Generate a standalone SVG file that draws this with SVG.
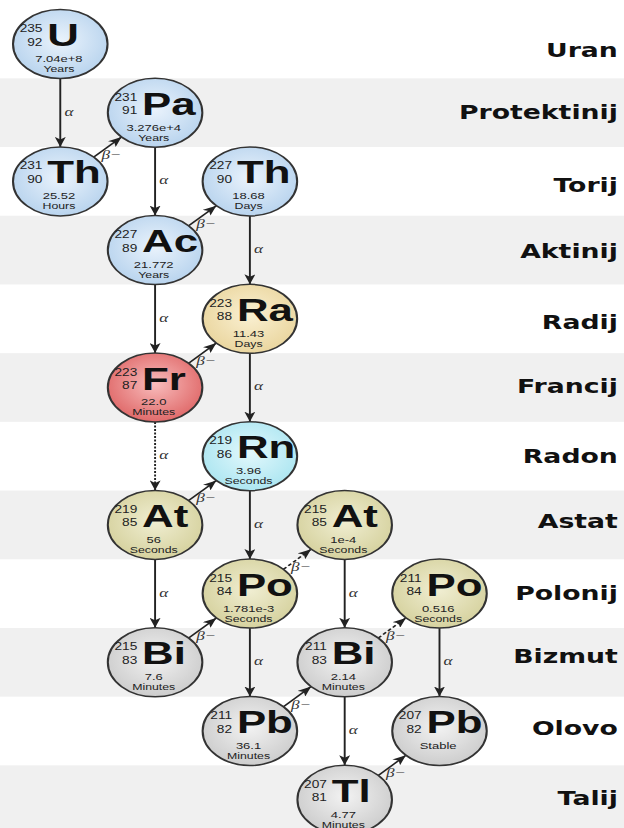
<svg xmlns="http://www.w3.org/2000/svg" width="624" height="828" viewBox="0 0 624 828">
<style>
.band{fill:#f0f0f0}
.lbl{font-family:"DejaVu Sans",Verdana,sans-serif;font-weight:bold;font-size:19.5px;fill:#111;text-anchor:end}
.node circle{stroke:#333333;stroke-width:1.5}
.mass{font-family:"Liberation Sans",Arial,sans-serif;font-size:10px;fill:#222;text-anchor:end}
.sym{font-family:"Liberation Sans",Arial,sans-serif;font-weight:bold;font-size:32px;fill:#111}
.hl{font-family:"Liberation Sans",Arial,sans-serif;font-size:9.5px;fill:#222;text-anchor:middle}
.unit{font-family:"Liberation Sans",Arial,sans-serif;font-size:9px;fill:#222;text-anchor:middle}
.edge{stroke:#222;stroke-width:1.4;fill:none;marker-end:url(#arr)}
.dot{stroke-dasharray:2 1.5}
.dash{stroke-dasharray:3 2}
.gl{font-family:"Liberation Serif","DejaVu Serif",serif;font-style:italic;font-size:12.5px;fill:#333}
</style>
<defs>
<radialGradient id="gBlue" cx="50%" cy="45%" r="55%"><stop offset="0" stop-color="#eaf3fc"/><stop offset="1" stop-color="#b9d4ee"/></radialGradient>
<radialGradient id="gTan" cx="50%" cy="45%" r="55%"><stop offset="0" stop-color="#faf0d2"/><stop offset="1" stop-color="#ead69f"/></radialGradient>
<radialGradient id="gRed" cx="50%" cy="45%" r="55%"><stop offset="0" stop-color="#f8bcbc"/><stop offset="1" stop-color="#e06a6a"/></radialGradient>
<radialGradient id="gCyan" cx="50%" cy="45%" r="55%"><stop offset="0" stop-color="#e2f8fc"/><stop offset="1" stop-color="#ade6f1"/></radialGradient>
<radialGradient id="gKhaki" cx="50%" cy="45%" r="55%"><stop offset="0" stop-color="#f0eed2"/><stop offset="1" stop-color="#d6d29f"/></radialGradient>
<radialGradient id="gGray" cx="50%" cy="45%" r="55%"><stop offset="0" stop-color="#f2f2f2"/><stop offset="1" stop-color="#cdcdcd"/></radialGradient>
<marker id="arr" markerUnits="userSpaceOnUse" markerWidth="10" markerHeight="8" refX="10" refY="4" orient="auto" viewBox="0 0 10 8"><path d="M0,0 L10,4 L0,8 L2.5,4 Z" fill="#222"/></marker>
</defs>
<rect x="0" y="0" width="624" height="828" fill="#ffffff"/>
<g transform="scale(1.37,1)">
<g id="bands">
<rect class="band" x="0" y="78.35" width="456" height="68.7"/>
<rect class="band" x="0" y="215.75" width="456" height="68.7"/>
<rect class="band" x="0" y="353.15" width="456" height="68.7"/>
<rect class="band" x="0" y="490.55" width="456" height="68.7"/>
<rect class="band" x="0" y="627.95" width="456" height="68.7"/>
<rect class="band" x="0" y="765.35" width="456" height="68.7"/>
</g>
<g id="labels">
<text class="lbl" x="451" y="57">Uran</text>
<text class="lbl" x="451" y="119">Protektinij</text>
<text class="lbl" x="451" y="192">Torij</text>
<text class="lbl" x="451" y="258">Aktinij</text>
<text class="lbl" x="451" y="329.5">Radij</text>
<text class="lbl" x="451" y="393">Francij</text>
<text class="lbl" x="451" y="463">Radon</text>
<text class="lbl" x="451" y="528">Astat</text>
<text class="lbl" x="451" y="600">Polonij</text>
<text class="lbl" x="451" y="663">Bizmut</text>
<text class="lbl" x="451" y="735">Olovo</text>
<text class="lbl" x="451" y="805">Talij</text>
</g>
<g id="connectors">
<line class="edge" x1="44" y1="78.5" x2="44" y2="146.9"/>
<text class="gl" x="47" y="115.7">α</text>
<line class="edge" x1="113.2" y1="147.2" x2="113.2" y2="215.6"/>
<text class="gl" x="116.2" y="184.4">α</text>
<line class="edge" x1="182.4" y1="215.9" x2="182.4" y2="284.3"/>
<text class="gl" x="185.4" y="253.1">α</text>
<line class="edge" x1="113.2" y1="284.6" x2="113.2" y2="353"/>
<text class="gl" x="116.2" y="321.8">α</text>
<line class="edge" x1="182.4" y1="353.3" x2="182.4" y2="421.7"/>
<text class="gl" x="185.4" y="390.5">α</text>
<line class="edge dot" x1="113.2" y1="422" x2="113.2" y2="490.4"/>
<text class="gl" x="116.2" y="459.2">α</text>
<line class="edge" x1="182.4" y1="490.7" x2="182.4" y2="559.1"/>
<text class="gl" x="185.4" y="527.9">α</text>
<line class="edge" x1="113.2" y1="559.4" x2="113.2" y2="627.8"/>
<text class="gl" x="116.2" y="596.6">α</text>
<line class="edge" x1="251.6" y1="559.4" x2="251.6" y2="627.8"/>
<text class="gl" x="254.6" y="596.6">α</text>
<line class="edge" x1="182.4" y1="628.1" x2="182.4" y2="696.5"/>
<text class="gl" x="185.4" y="665.3">α</text>
<line class="edge" x1="320.8" y1="628.1" x2="320.8" y2="696.5"/>
<text class="gl" x="323.8" y="665.3">α</text>
<line class="edge" x1="251.6" y1="696.8" x2="251.6" y2="765.2"/>
<text class="gl" x="254.6" y="734">α</text>
<line class="edge" x1="68.5" y1="157.1" x2="88.7" y2="137"/>
<text class="gl" x="74.1" y="159">β−</text>
<line class="edge" x1="137.7" y1="225.8" x2="157.9" y2="205.7"/>
<text class="gl" x="143.3" y="227.8">β−</text>
<line class="edge" x1="137.7" y1="363.2" x2="157.9" y2="343.1"/>
<text class="gl" x="143.3" y="365.2">β−</text>
<line class="edge" x1="137.7" y1="500.6" x2="157.9" y2="480.5"/>
<text class="gl" x="143.3" y="502.5">β−</text>
<line class="edge dash" x1="206.9" y1="569.3" x2="227.1" y2="549.2"/>
<text class="gl" x="212.5" y="571.3">β−</text>
<line class="edge" x1="137.7" y1="638" x2="157.9" y2="617.9"/>
<text class="gl" x="143.3" y="640">β−</text>
<line class="edge dash" x1="276.1" y1="638" x2="296.3" y2="617.9"/>
<text class="gl" x="281.7" y="640">β−</text>
<line class="edge" x1="206.9" y1="706.7" x2="227.1" y2="686.6"/>
<text class="gl" x="212.5" y="708.7">β−</text>
<line class="edge" x1="276.1" y1="775.4" x2="296.3" y2="755.3"/>
<text class="gl" x="281.7" y="777.4">β−</text>
</g>
<g id="n-U235" class="node" transform="translate(44,44)"><circle r="34.5" fill="url(#gBlue)"/><text class="mass" x="-13" y="-12">235</text><text class="mass" x="-13" y="1.5">92</text><text class="sym" x="-9.5" y="2">U</text><text class="hl" x="-1" y="18">7.04e+8</text><text class="unit" x="-1" y="28">Years</text></g>
<g id="n-Pa231" class="node" transform="translate(113.2,112.7)"><circle r="34.5" fill="url(#gBlue)"/><text class="mass" x="-13" y="-12">231</text><text class="mass" x="-13" y="1.5">91</text><text class="sym" x="-9.5" y="2">Pa</text><text class="hl" x="-1" y="18">3.276e+4</text><text class="unit" x="-1" y="28">Years</text></g>
<g id="n-Th231" class="node" transform="translate(44,181.4)"><circle r="34.5" fill="url(#gBlue)"/><text class="mass" x="-13" y="-12">231</text><text class="mass" x="-13" y="1.5">90</text><text class="sym" x="-9.5" y="2">Th</text><text class="hl" x="-1" y="18">25.52</text><text class="unit" x="-1" y="28">Hours</text></g>
<g id="n-Th227" class="node" transform="translate(182.4,181.4)"><circle r="34.5" fill="url(#gBlue)"/><text class="mass" x="-13" y="-12">227</text><text class="mass" x="-13" y="1.5">90</text><text class="sym" x="-9.5" y="2">Th</text><text class="hl" x="-1" y="18">18.68</text><text class="unit" x="-1" y="28">Days</text></g>
<g id="n-Ac227" class="node" transform="translate(113.2,250.1)"><circle r="34.5" fill="url(#gBlue)"/><text class="mass" x="-13" y="-12">227</text><text class="mass" x="-13" y="1.5">89</text><text class="sym" x="-9.5" y="2">Ac</text><text class="hl" x="-1" y="18">21.772</text><text class="unit" x="-1" y="28">Years</text></g>
<g id="n-Ra223" class="node" transform="translate(182.4,318.8)"><circle r="34.5" fill="url(#gTan)"/><text class="mass" x="-13" y="-12">223</text><text class="mass" x="-13" y="1.5">88</text><text class="sym" x="-9.5" y="2">Ra</text><text class="hl" x="-1" y="18">11.43</text><text class="unit" x="-1" y="28">Days</text></g>
<g id="n-Fr223" class="node" transform="translate(113.2,387.5)"><circle r="34.5" fill="url(#gRed)"/><text class="mass" x="-13" y="-12">223</text><text class="mass" x="-13" y="1.5">87</text><text class="sym" x="-9.5" y="2">Fr</text><text class="hl" x="-1" y="18">22.0</text><text class="unit" x="-1" y="28">Minutes</text></g>
<g id="n-Rn219" class="node" transform="translate(182.4,456.2)"><circle r="34.5" fill="url(#gCyan)"/><text class="mass" x="-13" y="-12">219</text><text class="mass" x="-13" y="1.5">86</text><text class="sym" x="-9.5" y="2">Rn</text><text class="hl" x="-1" y="18">3.96</text><text class="unit" x="-1" y="28">Seconds</text></g>
<g id="n-At219" class="node" transform="translate(113.2,524.9)"><circle r="34.5" fill="url(#gKhaki)"/><text class="mass" x="-13" y="-12">219</text><text class="mass" x="-13" y="1.5">85</text><text class="sym" x="-9.5" y="2">At</text><text class="hl" x="-1" y="18">56</text><text class="unit" x="-1" y="28">Seconds</text></g>
<g id="n-At215" class="node" transform="translate(251.6,524.9)"><circle r="34.5" fill="url(#gKhaki)"/><text class="mass" x="-13" y="-12">215</text><text class="mass" x="-13" y="1.5">85</text><text class="sym" x="-9.5" y="2">At</text><text class="hl" x="-1" y="18">1e-4</text><text class="unit" x="-1" y="28">Seconds</text></g>
<g id="n-Po215" class="node" transform="translate(182.4,593.6)"><circle r="34.5" fill="url(#gKhaki)"/><text class="mass" x="-13" y="-12">215</text><text class="mass" x="-13" y="1.5">84</text><text class="sym" x="-9.5" y="2">Po</text><text class="hl" x="-1" y="18">1.781e-3</text><text class="unit" x="-1" y="28">Seconds</text></g>
<g id="n-Po211" class="node" transform="translate(320.8,593.6)"><circle r="34.5" fill="url(#gKhaki)"/><text class="mass" x="-13" y="-12">211</text><text class="mass" x="-13" y="1.5">84</text><text class="sym" x="-9.5" y="2">Po</text><text class="hl" x="-1" y="18">0.516</text><text class="unit" x="-1" y="28">Seconds</text></g>
<g id="n-Bi215" class="node" transform="translate(113.2,662.3)"><circle r="34.5" fill="url(#gGray)"/><text class="mass" x="-13" y="-12">215</text><text class="mass" x="-13" y="1.5">83</text><text class="sym" x="-9.5" y="2">Bi</text><text class="hl" x="-1" y="18">7.6</text><text class="unit" x="-1" y="28">Minutes</text></g>
<g id="n-Bi211" class="node" transform="translate(251.6,662.3)"><circle r="34.5" fill="url(#gGray)"/><text class="mass" x="-13" y="-12">211</text><text class="mass" x="-13" y="1.5">83</text><text class="sym" x="-9.5" y="2">Bi</text><text class="hl" x="-1" y="18">2.14</text><text class="unit" x="-1" y="28">Minutes</text></g>
<g id="n-Pb211" class="node" transform="translate(182.4,731)"><circle r="34.5" fill="url(#gGray)"/><text class="mass" x="-13" y="-12">211</text><text class="mass" x="-13" y="1.5">82</text><text class="sym" x="-9.5" y="2">Pb</text><text class="hl" x="-1" y="18">36.1</text><text class="unit" x="-1" y="28">Minutes</text></g>
<g id="n-Pb207" class="node" transform="translate(320.8,731)"><circle r="34.5" fill="url(#gGray)"/><text class="mass" x="-13" y="-12">207</text><text class="mass" x="-13" y="1.5">82</text><text class="sym" x="-9.5" y="2">Pb</text><text class="hl" x="-1" y="18">Stable</text></g>
<g id="n-Tl207" class="node" transform="translate(251.6,799.7)"><circle r="34.5" fill="url(#gGray)"/><text class="mass" x="-13" y="-12">207</text><text class="mass" x="-13" y="1.5">81</text><text class="sym" x="-9.5" y="2">Tl</text><text class="hl" x="-1" y="18">4.77</text><text class="unit" x="-1" y="28">Minutes</text></g>
</g>
</svg>
